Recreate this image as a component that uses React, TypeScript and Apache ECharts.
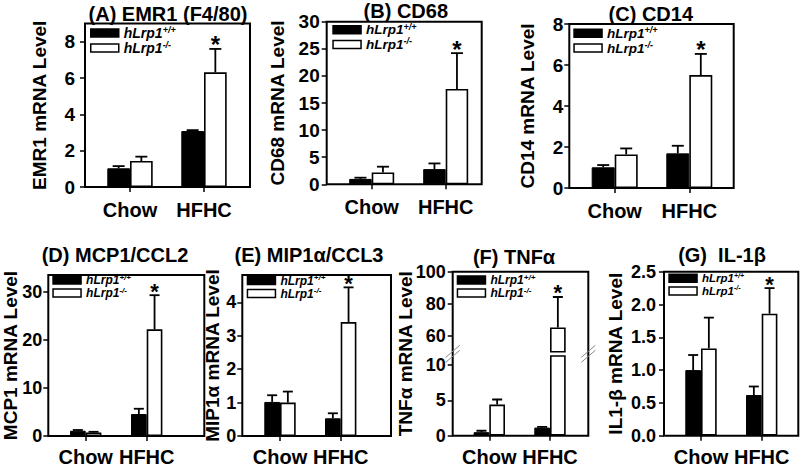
import React, { useEffect, useRef } from 'react';
import * as echarts from 'echarts';

const FONT = '"Liberation Sans", Arial, Helvetica, sans-serif';

const categories = ['Chow', 'HFHC'];
const seriesNames = ['hLrp1+/+', 'hLrp1-/-'];

// (A) EMR1 (F4/80)
const emr1Wt = [1.03, 3.08];
const emr1WtErr = [0.12, 0.05];
const emr1Ko = [1.43, 6.31];
const emr1KoErr = [0.24, 1.29];
const emr1Sig = [false, true];
const emr1Ticks = [0, 2, 4, 6, 8];
const emr1Range = [0, 9];

// (B) CD68
const cd68Wt = [1.0, 2.8];
const cd68WtErr = [0.22, 1.05];
const cd68Ko = [2.2, 17.6];
const cd68KoErr = [1.05, 6.6];
const cd68Sig = [false, true];
const cd68Ticks = [0, 5, 10, 15, 20, 25, 30];
const cd68Range = [0, 30];

// (C) CD14
const cd14Wt = [1.01, 1.69];
const cd14WtErr = [0.11, 0.37];
const cd14Ko = [1.64, 5.51];
const cd14KoErr = [0.29, 1.03];
const cd14Sig = [false, true];
const cd14Ticks = [0, 2, 4, 6, 8];
const cd14Range = [0, 8];

// (D) MCP1/CCL2
const mcp1Wt = [1.1, 4.57];
const mcp1WtErr = [0.15, 1.1];
const mcp1Ko = [0.75, 22.2];
const mcp1KoErr = [0.12, 7.1];
const mcp1Sig = [false, true];
const mcp1Ticks = [0, 10, 20, 30];
const mcp1Range = [0, 33.5];

// (E) MIP1a/CCL3
const mip1Wt = [1.02, 0.53];
const mip1WtErr = [0.2, 0.15];
const mip1Ko = [1.0, 3.41];
const mip1KoErr = [0.33, 1.04];
const mip1Sig = [false, true];
const mip1Ticks = [0, 1, 2, 3, 4];
const mip1Range = [0, 4.82];

// (F) TNFa (broken axis)
const tnfWt = [0.5, 1.15];
const tnfWtErr = [0.2, 0.1];
const tnfKo = [4.4, 65.2];
const tnfKoErr = [0.72, 19];
const tnfSig = [false, true];
const tnfLowTicks = [0, 5, 10];
const tnfLowRange = [0, 11.27];
const tnfHighTicks = [60, 80, 100];
const tnfHighRange = [50, 100];

// (G) IL-1b
const il1Wt = [1.0, 0.62];
const il1WtErr = [0.23, 0.13];
const il1Ko = [1.33, 1.86];
const il1KoErr = [0.47, 0.39];
const il1Sig = [false, true];
const il1Ticks = [0, 0.5, 1, 1.5, 2, 2.5];
const il1Range = [0, 2.5];

const panels = [
  { title: '(A) EMR1 (F4/80)', yName: 'EMR1 mRNA Level', wt: emr1Wt, wtErr: emr1WtErr, ko: emr1Ko, koErr: emr1KoErr, sig: emr1Sig,
    segs: [{ ticks: emr1Ticks, range: emr1Range }] },
  { title: '(B) CD68', yName: 'CD68 mRNA Level', wt: cd68Wt, wtErr: cd68WtErr, ko: cd68Ko, koErr: cd68KoErr, sig: cd68Sig,
    segs: [{ ticks: cd68Ticks, range: cd68Range }] },
  { title: '(C) CD14', yName: 'CD14 mRNA Level', wt: cd14Wt, wtErr: cd14WtErr, ko: cd14Ko, koErr: cd14KoErr, sig: cd14Sig,
    segs: [{ ticks: cd14Ticks, range: cd14Range }] },
  { title: '(D) MCP1/CCL2', yName: 'MCP1 mRNA Level', wt: mcp1Wt, wtErr: mcp1WtErr, ko: mcp1Ko, koErr: mcp1KoErr, sig: mcp1Sig,
    segs: [{ ticks: mcp1Ticks, range: mcp1Range }] },
  { title: '(E) MIP1α/CCL3', yName: 'MIP1α mRNA Level', wt: mip1Wt, wtErr: mip1WtErr, ko: mip1Ko, koErr: mip1KoErr, sig: mip1Sig,
    segs: [{ ticks: mip1Ticks, range: mip1Range }] },
  { title: '(F) TNFα', yName: 'TNFα mRNA Level', wt: tnfWt, wtErr: tnfWtErr, ko: tnfKo, koErr: tnfKoErr, sig: tnfSig,
    segs: [{ ticks: tnfLowTicks, range: tnfLowRange }, { ticks: tnfHighTicks, range: tnfHighRange }] },
  { title: '(G)  IL-1β', yName: 'IL1-β mRNA Level', wt: il1Wt, wtErr: il1WtErr, ko: il1Ko, koErr: il1KoErr, sig: il1Sig,
    segs: [{ ticks: il1Ticks, range: il1Range, decimals: 1 }] },
];

// Layout (pixels) for each panel
const layouts = [
  { box: [85, 23.5, 250, 187], centers: [130, 204], barW: 22.7, cap: 12, nameGap: 36, lblMargin: 10, tickFont: 19, xMargin: 13, title: [168, 14], legend: [90, 25], legendFont: 14, star: 24, segs: [[23.5, 187]] },
  { box: [326.7, 21.7, 481.7, 184.3], centers: [371.7, 445.7], barW: 22.5, cap: 12, nameGap: 40, lblMargin: 7, tickFont: 19, xMargin: 13, title: [405.8, 11], legend: [332.3, 22], legendFont: 13.5, star: 24, segs: [[21.7, 184.3]] },
  { box: [569.3, 24, 733.7, 188], centers: [614.7, 689.3], barW: 23, cap: 12, nameGap: 32, lblMargin: 6, tickFont: 19, xMargin: 13, title: [650.8, 13.5], legend: [573.3, 25.5], legendFont: 13.5, star: 24, segs: [[24, 188]] },
  { box: [48.3, 275, 204.3, 436], centers: [85.7, 146.7], barW: 15.7, cap: 10, nameGap: 28, lblMargin: 6, tickFont: 18, xMargin: 11, title: [115, 255], legend: [52.3, 273], legendFont: 12, star: 22, segs: [[275, 436]] },
  { box: [242.3, 275, 391, 436], centers: [280, 340.7], barW: 15.7, cap: 10, nameGap: 20, lblMargin: 6, tickFont: 18, xMargin: 11, title: [309, 255], legend: [246.7, 273.5], legendFont: 12, star: 22, segs: [[275, 436]] },
  { box: [452.7, 271.7, 588.3, 435.7], centers: [489.3, 550], barW: 15.7, cap: 10, nameGap: 38, lblMargin: 7, tickFont: 18, xMargin: 11, title: [514, 256.7], legend: [456.7, 273], legendFont: 12, star: 22, segs: [[356, 435.7], [271.7, 351.7]] },
  { box: [664, 271.7, 798.3, 435.7], centers: [701, 761.7], barW: 15.7, cap: 10, nameGap: 39, lblMargin: 8, tickFont: 18, xMargin: 11, title: [722, 255], legend: [668.3, 271.5], legendFont: 11.5, star: 22, segs: [[271.7, 435.7]] },
];

function buildOption() {
  const grid: any[] = [];
  const xAxis: any[] = [];
  const yAxis: any[] = [];
  const series: any[] = [];
  const legend: any[] = [];
  const graphic: any[] = [];

  panels.forEach((p, pi) => {
    const L = layouts[pi];
    const [bl, bt, br, bb] = L.box;
    const fi = grid.length;
    grid.push({ left: bl, top: bt, width: br - bl, height: bb - bt, show: true, borderColor: '#000', borderWidth: 2, backgroundColor: 'transparent' });
    xAxis.push({ gridIndex: fi, type: 'value', min: 0, max: 1, show: false });
    yAxis.push({
      gridIndex: fi, type: 'value', min: 0, max: 1,
      axisLine: { show: false }, axisTick: { show: false }, axisLabel: { show: false }, splitLine: { show: false },
      name: p.yName, nameLocation: 'middle', nameRotate: 90, nameGap: L.nameGap,
      nameTextStyle: { fontFamily: FONT, fontSize: 19, fontWeight: 'bold', color: '#000' },
    });

    const d = L.centers[1] - L.centers[0];
    const dl = L.centers[0] - d / 2;
    const multi = p.segs.length > 1;

    p.segs.forEach((s: any, si: number) => {
      const [st, sb] = L.segs[si];
      const gi = grid.length;
      grid.push({ left: dl, top: st, width: 2 * d, height: sb - st });
      xAxis.push({
        gridIndex: gi, type: 'category', data: categories, show: si === 0,
        axisLine: { show: false },
        axisTick: { show: true, alignWithLabel: true, length: 5, lineStyle: { color: '#000', width: 1.5 } },
        axisLabel: { interval: 0, hideOverlap: false, margin: L.xMargin, fontFamily: FONT, fontSize: 20, fontWeight: 'bold', color: '#000' },
      });
      yAxis.push({
        gridIndex: gi, type: 'value', min: s.range[0], max: s.range[1], offset: dl - bl,
        axisLine: { show: false },
        axisTick: { show: true, customValues: s.ticks, length: 5, lineStyle: { color: '#000', width: 1.5 } },
        axisLabel: {
          customValues: s.ticks, margin: L.lblMargin, fontFamily: FONT, fontSize: L.tickFont, fontWeight: 'bold', color: '#000',
          formatter: (v: number) => (s.decimals ? v.toFixed(s.decimals) : String(v)),
        },
        splitLine: { show: false },
      });
      series.push({
        type: 'bar', name: seriesNames[0], xAxisIndex: gi, yAxisIndex: gi, data: p.wt, barWidth: L.barW, barGap: '0%',
        itemStyle: { color: '#000', borderColor: '#000', borderWidth: 1 }, z: 2,
      });
      series.push({
        type: 'bar', name: seriesNames[1], xAxisIndex: gi, yAxisIndex: gi, data: p.ko, barWidth: L.barW, barGap: '0%',
        itemStyle: { color: '#fff', borderColor: '#000', borderWidth: 1.6 }, z: 2,
      });
      const errData: any[] = [];
      p.wt.forEach((v: number, i: number) => errData.push([i, v, p.wtErr[i], -1, 0]));
      p.ko.forEach((v: number, i: number) => errData.push([i, v, p.koErr[i], 1, p.sig[i] ? 1 : 0]));
      series.push({
        type: 'custom', xAxisIndex: gi, yAxisIndex: gi, data: errData, clip: multi, z: 3,
        encode: { x: 0, y: 1 },
        renderItem: (params: any, api: any) => {
          const idx = api.value(0);
          const v = api.value(1);
          const e = api.value(2);
          const side = api.value(3);
          const sg = api.value(4);
          const b = api.coord([idx, v]);
          const t = api.coord([idx, v + e]);
          const cs = params.coordSys;
          if (multi && (b[1] < cs.y - 0.5 || t[1] > cs.y + cs.height + 0.5)) return { type: 'group', children: [] };
          const x = b[0] + (side * L.barW) / 2;
          const children: any[] = [
            { type: 'line', shape: { x1: x, y1: b[1], x2: x, y2: t[1] }, style: { stroke: '#000', lineWidth: 1.8 } },
            { type: 'line', shape: { x1: x - L.cap / 2, y1: t[1], x2: x + L.cap / 2, y2: t[1] }, style: { stroke: '#000', lineWidth: 1.8 } },
          ];
          if (sg) {
            children.push({
              type: 'text', x, y: t[1] - 4,
              style: { text: '*', font: `bold ${L.star}px ${FONT}`, fill: '#000', align: 'center', verticalAlign: 'middle', textAlign: 'center', textVerticalAlign: 'middle' },
            });
          }
          return { type: 'group', children };
        },
      });
    });

    legend.push({
      left: L.legend[0], top: L.legend[1], orient: 'vertical', padding: 0, itemGap: 0,
      itemWidth: 28, itemHeight: 8, icon: 'rect', selectedMode: false, data: seriesNames,
      itemStyle: { borderColor: '#000', borderWidth: 1.5 },
      formatter: (n: string) => `{a|${n.slice(0, 5)}}{s|${n.slice(5)}}`,
      textStyle: {
        rich: {
          a: { fontFamily: FONT, fontSize: L.legendFont, fontWeight: 'bold', fontStyle: 'italic', color: '#000', lineHeight: L.legendFont + 2 },
          s: { fontFamily: FONT, fontSize: Math.round(L.legendFont * 0.65), fontWeight: 'bold', fontStyle: 'italic', color: '#000', verticalAlign: 'top', lineHeight: 9 },
        },
      },
    });

    graphic.push({
      type: 'text', x: L.title[0], y: L.title[1],
      style: { text: p.title, font: `bold 20px ${FONT}`, fill: '#000', align: 'center', verticalAlign: 'middle', textAlign: 'center', textVerticalAlign: 'middle' },
    });

    if (multi) {
      const yb = (L.segs[0][0] + L.segs[1][1]) / 2;
      [bl, br].forEach((xb) => {
        [-2.5, 2.5].forEach((dy) => {
          graphic.push({
            type: 'line', shape: { x1: xb - 7, y1: yb + dy + 6, x2: xb + 7, y2: yb + dy - 6 },
            style: { stroke: '#888', lineWidth: 1 },
          });
        });
      });
    }
  });

  return { animation: false, backgroundColor: '#fff', grid, xAxis, yAxis, series, legend, graphic };
}

export default function App() {
  const ref = useRef<HTMLDivElement>(null);
  useEffect(() => {
    if (!ref.current) return;
    const chart = echarts.init(ref.current, undefined, { renderer: 'svg' });
    chart.setOption(buildOption() as any);
    return () => chart.dispose();
  }, []);
  return <div ref={ref} style={{ position: 'absolute', left: 0, top: 0, width: 800, height: 469, background: '#fff' }} />;
}
